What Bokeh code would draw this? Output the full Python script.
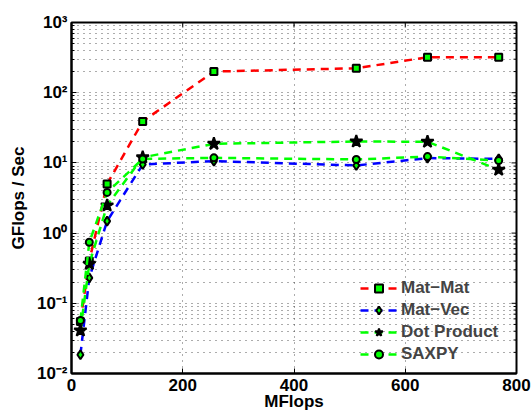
import math
from bokeh.plotting import figure
from bokeh.models import Range1d, FixedTicker, Legend, LegendItem
from bokeh.embed import file_html
from bokeh.resources import INLINE

# ---- data ----
mflops = [16, 32, 64, 128, 256, 512, 640, 768]
mat_mat = [0.055, 0.40, 5.0, 39, 200, 223, 320, 320]
mat_vec = [0.0185, 0.23, 1.48, 9.5, 10.6, 9.2, 11.7, 11.4]
dot_product = [0.041, 0.365, 2.47, 12.0, 18.7, 20.2, 20.0, 8.0]
saxpy = [0.057, 0.74, 3.8, 11.4, 11.8, 11.2, 12.3, 10.8]

series_names = ["Mat\u2212Mat", "Mat\u2212Vec", "Dot Product", "SAXPY"]
x_ticks = [0, 200, 400, 600, 800]
x_tick_labels = ["0", "200", "400", "600", "800"]
y_ticks = [0.01, 0.1, 1, 10, 100, 1000]
y_tick_labels = ["10\u207b\u00b2", "10\u207b\u00b9", "10\u2070", "10\u00b9", "10\u00b2", "10\u00b3"]
y_minor = [m * 10.0 ** e for e in range(-2, 3) for m in range(2, 10)]
x_label = "MFlops"
y_label = "GFlops / Sec"

X_MIN, X_MAX = 0, 800
Y_MIN, Y_MAX = 0.01, 1000

FONT = "Liberation Sans"
FS = "17px"

p = figure(width=531, height=414, output_backend="svg", toolbar_location=None,
           y_axis_type="log", x_range=Range1d(X_MIN, X_MAX), y_range=Range1d(Y_MIN, Y_MAX),
           min_border_left=71, min_border_right=15, min_border_top=22,
           min_border_bottom=41)
p.background_fill_color = "white"
p.border_fill_color = "white"
p.outline_line_color = "black"
p.outline_line_width = 2

xt = FixedTicker(ticks=x_ticks)
yt = FixedTicker(ticks=y_ticks, minor_ticks=y_minor)

def style_axis(ax):
    ax.axis_line_color = "black"
    ax.axis_line_width = 2
    ax.major_tick_in = 5
    ax.major_tick_out = 0
    ax.minor_tick_in = 3
    ax.minor_tick_out = 0
    ax.major_tick_line_width = 1
    ax.minor_tick_line_width = 1
    ax.major_label_text_font = FONT
    ax.major_label_text_font_style = "bold"
    ax.major_label_text_font_size = FS
    ax.major_label_text_color = "black"
    ax.axis_label_text_font = FONT
    ax.axis_label_text_font_style = "bold"
    ax.axis_label_text_font_size = FS
    ax.axis_label_text_color = "black"

xa = p.xaxis[0]
xa.ticker = xt
xa.major_label_overrides = {t: l for t, l in zip(x_ticks, x_tick_labels)}
xa.major_label_standoff = 5
xa.axis_label = x_label
xa.axis_label_standoff = -2
style_axis(xa)
xa.minor_tick_in = 0

ya = p.yaxis[0]
ya.ticker = yt
ya.major_label_overrides = {t: l for t, l in zip(y_ticks, y_tick_labels)}
ya.major_label_standoff = 4
ya.axis_label = y_label
ya.axis_label_standoff = 6
style_axis(ya)

# tick marks on the top and right edges of the box (inside)
p.ray(x=[X_MAX] * len(y_ticks), y=y_ticks, length=5, length_units="screen",
      angle=math.pi, line_color="black", line_width=1)
p.ray(x=[X_MAX] * len(y_minor), y=y_minor, length=3, length_units="screen",
      angle=math.pi, line_color="black", line_width=1)
p.ray(x=x_ticks, y=[Y_MAX] * len(x_ticks), length=5, length_units="screen",
      angle=-math.pi / 2, line_color="black", line_width=1)

for g in (p.xgrid[0], p.ygrid[0]):
    g.grid_line_color = "#303030"
    g.grid_line_dash = "1 5"
    g.grid_line_alpha = 0.8
    g.grid_line_width = 1
p.xgrid[0].ticker = xt
p.ygrid[0].ticker = yt
p.ygrid[0].minor_grid_line_color = "#303030"
p.ygrid[0].minor_grid_line_dash = "1 5"
p.ygrid[0].minor_grid_line_alpha = 0.8

DASH = "8 6"
LW = 2.5
GREEN = "#00ff00"

specs = [
    (mat_mat, "#ff0000", "square", 7, GREEN),
    (mat_vec, "#0000ff", "diamond", 9, GREEN),
    (dot_product, GREEN, "star", 13, "black"),
    (saxpy, GREEN, "circle", 7, GREEN),
]

items = []
for name, (ys, col, mk, sz, fill) in zip(series_names, specs):
    lr = p.line(mflops, ys, line_color=col, line_width=LW, line_dash=DASH)
    sr = p.scatter(mflops, ys, marker=mk, size=sz, fill_color=fill,
                   line_color="black", line_width=2)
    items.append(LegendItem(label=name, renderers=[lr, sr]))

legend = Legend(items=items, location=(289, 8), padding=0, margin=0,
                spacing=0, glyph_width=37, glyph_height=20, label_height=22,
                label_standoff=4, border_line_alpha=0, background_fill_alpha=0,
                label_text_font=FONT, label_text_font_style="bold",
                label_text_font_size=FS, label_text_baseline="middle")
p.add_layout(legend, "center")

open("out.html", "w").write(file_html(p, INLINE))
